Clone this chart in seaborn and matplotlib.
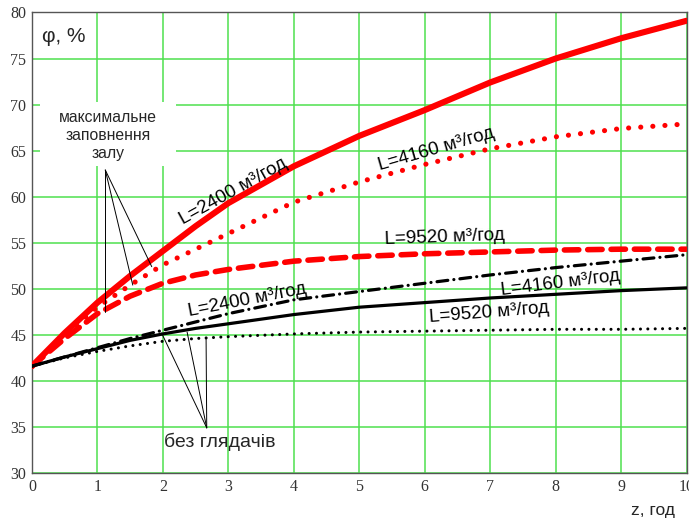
import numpy as np
import pandas as pd
import matplotlib
matplotlib.use("Agg")
import matplotlib.pyplot as plt
from matplotlib.patches import Rectangle
import seaborn as sns

# ---- data ----
z = [0, 0.5, 1, 1.5, 2, 2.5, 3, 4, 5, 6, 7, 8, 9, 10]
red_2400 = [41.6, 45.2, 48.5, 51.4, 54.1, 56.8, 59.3, 63.3, 66.6, 69.4, 72.4, 75.0, 77.2, 79.1]
red_4160 = [41.6, 45.0, 48.0, 50.4, 52.6, 54.3, 56.0, 59.4, 61.6, 63.5, 65.2, 66.5, 67.4, 67.9]
red_9520 = [41.6, 44.6, 47.3, 49.2, 50.6, 51.5, 52.1, 53.0, 53.5, 53.8, 54.0, 54.2, 54.3, 54.3]
blk_2400 = [41.6, 42.6, 43.6, 44.6, 45.5, 46.4, 47.3, 48.8, 49.7, 50.6, 51.5, 52.3, 53.0, 53.7]
blk_4160 = [41.6, 42.6, 43.5, 44.4, 45.1, 45.7, 46.2, 47.2, 48.0, 48.5, 49.0, 49.4, 49.8, 50.1]
blk_9520 = [41.6, 42.5, 43.2, 43.8, 44.3, 44.6, 44.8, 45.1, 45.3, 45.4, 45.5, 45.6, 45.6, 45.7]
x_ticks = [0, 1, 2, 3, 4, 5, 6, 7, 8, 9, 10]
y_ticks = [30, 35, 40, 45, 50, 55, 60, 65, 70, 75, 80]

sns.set_style("white")
plt.rcParams['font.family'] = ['Liberation Sans', 'DejaVu Sans']

fig = plt.figure(figsize=(6.89, 5.20), dpi=100)
ax = fig.add_axes([0.0464, 0.0904, 0.9500, 0.8856])

GREEN = "#4ee04e"
for v in x_ticks:
    ax.axvline(v, color=GREEN, lw=1.1, zorder=0)
for v in y_ticks:
    ax.axhline(v, color=GREEN, lw=1.1, zorder=0)

series = [
    (red_2400, "red", "-", 4.4, "butt"),
    (red_4160, "red", (0, (0.01, 2.35)), 3.7, "round"),
    (red_9520, "red", (0, (2.6, 1.6)), 4.0, "round"),
    (blk_2400, "black", (0, (3.4, 1.9, 0.01, 1.9)), 2.3, "round"),
    (blk_4160, "black", "-", 2.3, "butt"),
    (blk_9520, "black", (0, (0.01, 2.4)), 2.2, "round"),
]
for vals, col, ls, lw, cap in series:
    df = pd.DataFrame({"z": z, "phi": vals})
    sns.lineplot(data=df, x="z", y="phi", ax=ax, color=col, linestyle=ls,
                 linewidth=lw, zorder=3)
    line = ax.lines[-1]
    line.set_dash_capstyle(cap)
    line.set_solid_capstyle("round")
    line.set_solid_joinstyle("round")

ax.set_xlim(0, 10)
ax.set_ylim(30, 80)
ax.set_xticks(x_ticks)
ax.set_yticks(y_ticks)
ax.set_xlabel("")
ax.set_ylabel("")
ax.tick_params(length=0, labelsize=11.5, pad=4, colors="#333333")
for lab in ax.get_xticklabels() + ax.get_yticklabels():
    lab.set_fontfamily("Liberation Serif")
for s in ax.spines.values():
    s.set_color("#555555")
    s.set_linewidth(1.0)

# axis titles
ax.text(0.15, 77.4, "φ, %", fontsize=15, ha="left", va="center")
fig.text(0.948, 0.019, "z, год", fontsize=12.5, ha="center", va="center")

# curve labels
lab_kw = dict(fontsize=13.5, ha="center", va="center", color="black", zorder=5)
ax.text(3.07, 60.6, "L=2400 м³/год", rotation=29, **lab_kw)
ax.text(6.18, 65.1, "L=4160 м³/год", rotation=16, **lab_kw)
ax.text(6.31, 55.6, "L=9520 м³/год", rotation=2, **lab_kw)
ax.text(3.29, 48.8, "L=2400 м³/год", rotation=11, **lab_kw)
ax.text(8.07, 50.6, "L=4160 м³/год", rotation=7, **lab_kw)
ax.text(6.99, 47.4, "L=9520 м³/год", rotation=4.5, **lab_kw)

# annotation boxes
ax.add_patch(Rectangle((0.12, 63.3), 2.08, 7.0, fc="white", ec="none", zorder=5))
ax.text(1.16, 66.6, "максимальне\nзаповнення\nзалу", fontsize=11.3,
        ha="center", va="center", linespacing=1.25, zorder=6)
ax.text(2.87, 33.4, "без глядачів", fontsize=14, ha="center", va="center",
        zorder=6)

# callout lines
top_apex = (1.12, 62.9)
for end in [(1.12, 47.5), (1.54, 50.4), (1.83, 52.4)]:
    ax.plot([top_apex[0], end[0]], [top_apex[1], end[1]], color="black",
            lw=0.7, zorder=4)
bot_apex = (2.67, 34.9)
for end in [(1.98, 45.2), (2.37, 45.3), (2.66, 44.6)]:
    ax.plot([bot_apex[0], end[0]], [bot_apex[1], end[1]], color="black",
            lw=0.7, zorder=4)

fig.savefig("out.png", dpi=100)
